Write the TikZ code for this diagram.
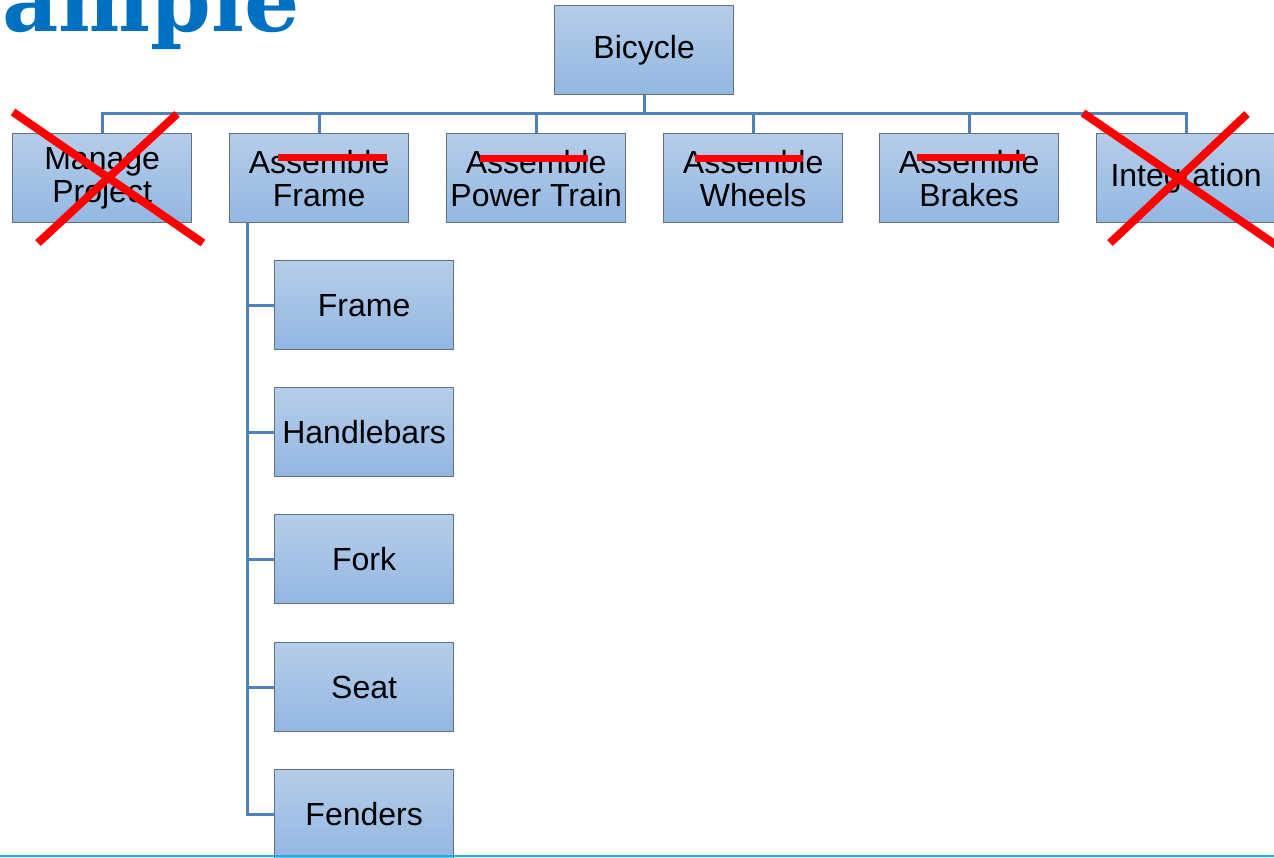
\documentclass[tikz,border=0pt]{standalone}
\usepackage{fontspec}
\setmainfont{Liberation Sans}
\newfontfamily\titlefont{DejaVu Serif}
\definecolor{boxtop}{RGB}{182,205,234}
\definecolor{boxbot}{RGB}{146,183,226}
\definecolor{boxedge}{RGB}{100,112,128}
\definecolor{connblue}{RGB}{79,129,189}
\definecolor{titleblue}{RGB}{0,112,192}
\definecolor{rulecyan}{RGB}{30,170,230}
\definecolor{markred}{RGB}{255,0,0}
\tikzset{
  wbs/.style={draw=boxedge, line width=1.3pt, top color=boxtop, bottom color=boxbot,
    minimum width=179pt, minimum height=89pt, inner sep=0pt, anchor=north west,
    align=center, font=\fontsize{32}{33}\selectfont},
  conn/.style={draw=connblue, line width=3pt},
  cross/.style={draw=markred, line width=8pt},
  strike/.style={draw=markred, line width=7pt},
}
\begin{document}
\begin{tikzpicture}[x=1pt,y=-1pt]
\useasboundingbox (0,0) rectangle (1274,857);

% heading fragment
\node[anchor=base west, inner sep=0pt, text=titleblue,
      font=\titlefont\bfseries\fontsize{87}{87}\selectfont] (head) at (2,31) {ample};

% top level
\node[wbs] (bic) at (554,5) {Bicycle};

% second level
\node[wbs] (mp) at (12,133)   {Manage\\Project};
\node[wbs] (af) at (229,133)  {Assemble\\Frame};
\node[wbs] (ap) at (446,133)  {Assemble\\Power Train};
\node[wbs] (aw) at (663,133)  {Assemble\\Wheels};
\node[wbs] (ab) at (879,133)  {Assemble\\Brakes};
\node[wbs] (in) at (1096,133) {Integration};

% frame sub-items
\node[wbs] (fr) at (274,260) {Frame};
\node[wbs] (hb) at (274,387) {Handlebars};
\node[wbs] (fk) at (274,514) {Fork};
\node[wbs] (st) at (274,642) {Seat};
\node[wbs] (fd) at (274,769) {Fenders};

% connectors from the root
\foreach \c in {mp,af,ap,aw,ab,in}
  \draw[conn] (bic.south) -- ++(0,18) -| (\c.north);

% connectors from Assemble Frame
\foreach \c in {fr,hb,fk,st,fd}
  \draw[conn] ([xshift=18pt]af.south west) |- (\c.west);

% crossed-out items
\draw[cross] (13,112) -- (203,243);
\draw[cross] (177,114) -- (38,243);
\draw[cross] (1083,113) -- (1276,245);
\draw[cross] (1247,114) -- (1110,243);

% struck-through words
\draw[strike] (278,157) -- (387,157);
\draw[strike] (480,158) -- (588,158);
\draw[strike] (695,158) -- (803,158);
\draw[strike] (917,157) -- (1025,157);

% bottom rule
\draw[rulecyan, line width=2pt] (0,856) -- (1274,856);
\end{tikzpicture}
\end{document}
